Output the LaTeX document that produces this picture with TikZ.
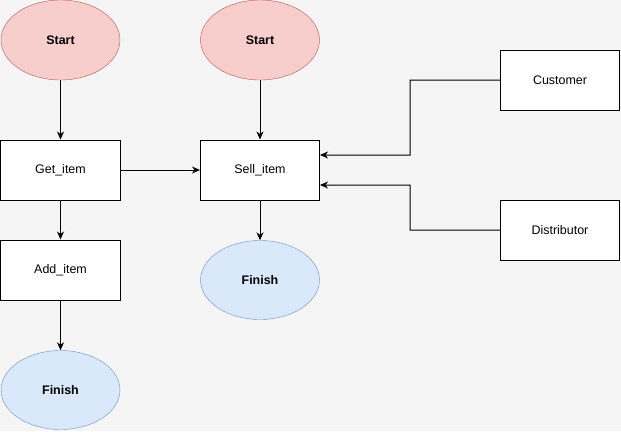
\documentclass[tikz,border=0pt]{standalone}
\usepackage{fontspec}
\setmainfont{Liberation Sans}
\usetikzlibrary{shapes.geometric,arrows.meta}
\definecolor{bggray}{HTML}{F5F5F5}
\definecolor{redfill}{HTML}{F8CECC}
\definecolor{redline}{HTML}{B85450}
\definecolor{bluefill}{HTML}{DAE8FC}
\definecolor{blueline}{HTML}{6C8EBF}
\tikzset{
  box/.style={draw, line width=1bp, fill=white, minimum width=119bp, minimum height=60bp, inner sep=0pt, font=\fontsize{12.5}{14}\selectfont},
  startnode/.style={ellipse, draw=redline, fill=redfill, minimum width=119bp, minimum height=80bp, inner sep=0pt, font=\fontsize{12.5}{14}\selectfont\bfseries},
  finishnode/.style={ellipse, draw=blueline, fill=bluefill, minimum width=119bp, minimum height=79bp, inner sep=0pt, font=\fontsize{12.5}{14}\selectfont\bfseries},
  flow/.style={line width=1bp, -{Stealth[length=8bp,width=7bp,inset=2.5bp]}}
}
\begin{document}
\begin{tikzpicture}[x=1bp,y=-1bp]
% Background
\fill[bggray] (0,0) rectangle (621,431);
\useasboundingbox (0,0) rectangle (621,431);
% Left column
\node[startnode] (start1) at (60.5,40) {Start};
\node[box] (getitem) at (60.5,170) {Get\_item};
\node[box] (additem) at (60.5,270) {Add\_item};
\node[finishnode] (finish1) at (60.5,390) {Finish};
% Middle column
\node[startnode] (start2) at (260,40) {Start};
\node[box] (sellitem) at (260,170) {Sell\_item};
\node[finishnode] (finish2) at (260,280) {Finish};
% Right column
\node[box] (customer) at (560,80) {Customer};
\node[box] (distributor) at (560,230) {Distributor};
% Straight arrows
\foreach \a/\b in {start1/getitem, getitem/additem, additem/finish1, start2/sellitem, sellitem/finish2}
{
  \draw[flow] (\a) -- (\b);
}
\draw[flow] (getitem) -- (sellitem);
% Elbow arrows into Sell_item
\coordinate (cin) at ([yshift=15bp]sellitem.east);
\coordinate (din) at ([yshift=-15bp]sellitem.east);
\draw[flow] (customer.west) -| (410,155) -- (cin);
\draw[flow] (distributor.west) -| (410,185) -- (din);
\end{tikzpicture}
\end{document}
